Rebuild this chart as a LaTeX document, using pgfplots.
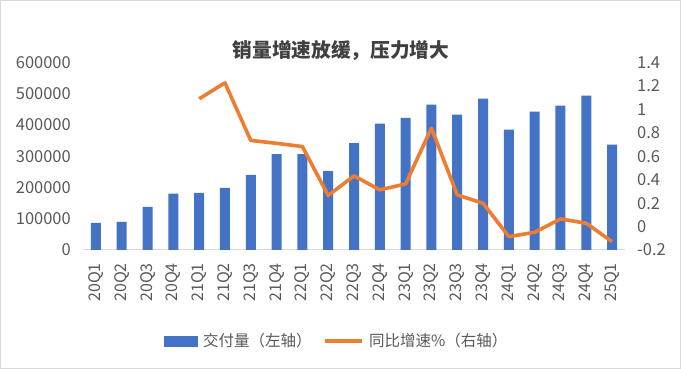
\documentclass[border=0pt]{standalone}
\usepackage{pgfplots}
\pgfplotsset{compat=1.18}
\usepackage{fontspec}
\setmainfont{Noto Sans CJK SC}
\definecolor{barblue}{HTML}{4472C4}
\definecolor{lineorange}{HTML}{ED7D31}
\definecolor{txtgray}{HTML}{595959}
\definecolor{ttlgray}{HTML}{404040}
\definecolor{axgray}{HTML}{D9D9D9}
\begin{document}
\begin{tikzpicture}[x=1pt,y=1pt]
\path[fill=white, draw=axgray, line width=1pt] (0.5,0.5) rectangle (680.5,368.5);
\node[font=\fontsize{19.7}{22}\selectfont\bfseries, text=ttlgray] at (341,318.5) {销量增速放缓，压力增大};
\begin{axis}[
  at={(83pt,119pt)}, anchor=south west, scale only axis,
  width=542pt, height=187.5pt,
  xmin=-0.5, xmax=20.5, ymin=0, ymax=600000,
  axis x line*=bottom, axis y line*=left,
  x axis line style={draw=axgray, line width=1pt, -},
  y axis line style={draw=none},
  xtick={0,...,20},
  xticklabels={20Q1,20Q2,20Q3,20Q4,21Q1,21Q2,21Q3,21Q4,22Q1,22Q2,22Q3,22Q4,23Q1,23Q2,23Q3,23Q4,24Q1,24Q2,24Q3,24Q4,25Q1},
  major tick length=0pt,
  xticklabel shift=13pt,
  xticklabel style={rotate=90, anchor=east, inner sep=0pt, font=\fontsize{16}{16}\selectfont, text=txtgray},
  ytick={0,100000,200000,300000,400000,500000,600000},
  yticklabel shift=12pt,
  yticklabel style={anchor=east, inner sep=0pt, font=\fontsize{16.5}{16.5}\selectfont, text=txtgray,
    /pgf/number format/fixed, /pgf/number format/precision=0, /pgf/number format/1000 sep={}},
  scaled y ticks=false,
  /pgf/number format/assume math mode=true,
]
\addplot[ybar, bar width=10pt, fill=barblue, draw=none] coordinates {
(0,87000) (1,90000) (2,138000) (3,180000) (4,183000) (5,199000) (6,240000)
(7,307000) (8,307000) (9,252000) (10,342000) (11,404000) (12,423000) (13,465000)
(14,433000) (15,484000) (16,385000) (17,443000) (18,462000) (19,494000) (20,337000)
};
\end{axis}
\begin{axis}[
  at={(83pt,119pt)}, anchor=south west, scale only axis,
  width=542pt, height=187.5pt,
  xmin=-0.5, xmax=20.5, ymin=-0.2, ymax=1.4,
  axis x line=none, axis y line*=right,
  y axis line style={draw=none},
  major tick length=0pt,
  ytick={-0.2,0,0.2,0.4,0.6,0.8,1,1.2,1.4},
  yticklabel shift=12pt,
  yticklabel style={anchor=west, inner sep=0pt, font=\fontsize{16.5}{16.5}\selectfont, text=txtgray,
    /pgf/number format/fixed, /pgf/number format/precision=1},
  /pgf/number format/assume math mode=true,
  clip=false,
  legend columns=2,
  legend style={at={(0.466,-0.4853)}, anchor=center, draw=none, fill=none,
    font=\fontsize{15.5}{15.5}\selectfont, text=txtgray,
    /tikz/every even column/.append style={column sep=12pt},
    nodes={inner sep=0pt}},
]
\addlegendimage{legend image code/.code={\fill[barblue] (0pt,-5pt) rectangle (33pt,5pt);}}
\addlegendentry{\hspace{6pt}交付量（左轴）}
\addplot[lineorange, line width=3.6pt, line join=round,
  legend image code/.code={\draw[lineorange, line width=3.6pt] (0pt,0pt) -- (37pt,0pt);}]
coordinates {
(4,1.09) (5,1.226) (6,0.735) (7,0.71) (8,0.683) (9,0.265) (10,0.433) (11,0.313)
(12,0.364) (13,0.84) (14,0.27) (15,0.199) (16,-0.086) (17,-0.049) (18,0.065)
(19,0.028) (20,-0.129)
};
\addlegendentry{\hspace{5pt}同比增速\%（右轴）}
\end{axis}
\end{tikzpicture}
\end{document}
